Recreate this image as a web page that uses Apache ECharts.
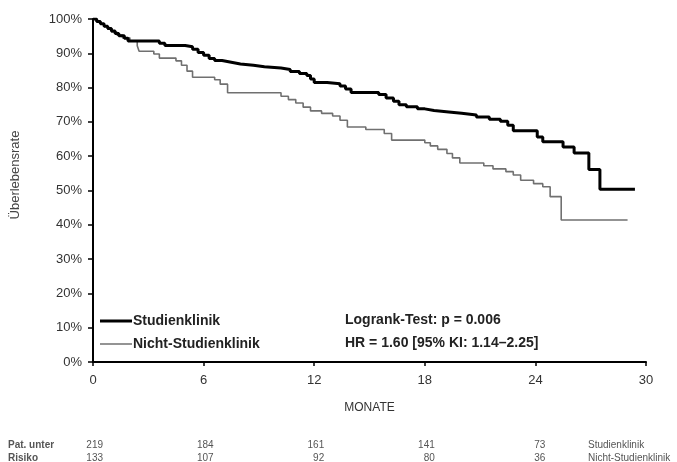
<!DOCTYPE html>
<html>
<head>
<meta charset="utf-8">
<script src="https://cdn.jsdelivr.net/npm/echarts@6/dist/echarts.min.js"></script>
<style>
  html, body { margin: 0; padding: 0; background: #fff; }
  #chart { width: 677px; height: 462px; }
</style>
</head>
<body>
<div id="chart"></div>
<script>
// Kaplan-Meier steps (months, survival %)
const studienT = [0, 0.2, 0.4, 0.6, 0.8, 1.0, 1.2, 1.4, 1.7, 1.9, 3.6, 3.9, 5.0, 5.4, 5.7, 6.0, 6.3, 6.6, 7.0, 7.5, 8.0, 8.7, 9.3, 10.2, 10.7, 11.2, 11.6, 11.8, 12.0, 12.7, 13.4, 13.7, 14.0, 15.5, 15.9, 16.3, 16.6, 17.0, 17.6, 18.0, 18.5, 19.3, 20.0, 20.8, 21.5, 22.1, 22.5, 22.8, 24.1, 24.4, 25.5, 26.1, 26.9, 27.5, 29.4];
const studienS = [100, 99.3, 98.6, 97.9, 97.2, 96.5, 95.8, 95.1, 94.4, 93.6, 92.9, 92.3, 91.9, 91.2, 90.2, 89.4, 88.5, 87.9, 87.4, 86.9, 86.5, 86.1, 85.7, 85.3, 84.7, 84.1, 83.5, 82.5, 81.5, 81.1, 80.5, 79.6, 78.6, 78.0, 77.0, 76.0, 75.0, 74.4, 73.8, 73.3, 72.9, 72.5, 72.0, 71.4, 70.8, 70.2, 69.0, 67.4, 65.6, 64.2, 62.7, 60.9, 56.1, 50.4, 50.4];
const nichtT = [0, 0.2, 0.4, 0.6, 0.8, 1.0, 1.3, 1.6, 2.0, 2.4, 2.5, 3.3, 3.6, 4.5, 4.8, 5.1, 5.4, 6.6, 6.9, 7.3, 10.2, 10.6, 11.0, 11.4, 11.8, 12.4, 13.0, 13.4, 13.8, 14.8, 15.8, 16.2, 18.0, 18.3, 18.7, 19.2, 19.5, 19.9, 21.2, 21.7, 22.4, 22.8, 23.2, 23.9, 24.4, 24.8, 25.4, 29.0];
const nichtS = [100, 99.3, 98.6, 97.8, 97.0, 96.2, 95.3, 94.5, 93.6, 92.2, 90.6, 89.8, 88.6, 87.8, 86.5, 84.8, 83.0, 82.3, 81.0, 78.5, 77.5, 76.5, 75.5, 74.3, 73.2, 72.5, 71.7, 70.5, 68.5, 67.8, 66.6, 64.7, 63.9, 63.0, 62.0, 60.8, 59.5, 58.0, 57.2, 56.3, 55.5, 54.5, 53.0, 52.0, 51.1, 48.2, 41.4, 41.4];

// patients at risk
const riskTimes = [0, 6, 12, 18, 24];
const riskStudien = [219, 184, 161, 141, 73];
const riskNicht = [133, 107, 92, 80, 36];

const FONT = "Liberation Sans, Arial, sans-serif";
const chart = echarts.init(document.getElementById("chart"), null, { renderer: "canvas" });
const pairs = (t, s) => t.map((x, i) => [x, s[i]]);

chart.setOption({
  animation: false,
  textStyle: { fontFamily: FONT },
  grid: { left: 93, right: 31, top: 19, bottom: 100 },
  legend: {
    orient: "vertical", left: 95, top: 309, itemGap: 9,
    itemWidth: 32, itemHeight: 14, symbolKeepAspect: true,
    data: [
      { name: "Studienklinik", icon: "path://M0,0H32V3H0Z" },
      { name: "Nicht-Studienklinik", icon: "path://M0,0H64V3H0Z" },
    ],
    textStyle: { fontFamily: FONT, fontSize: 14, fontWeight: "bold", color: "#222", padding: [0, 0, 0, -4] },
  },
  xAxis: {
    type: "value", min: 0, max: 30, interval: 6,
    name: "MONATE", nameLocation: "middle", nameGap: 40,
    nameTextStyle: { fontSize: 12, color: "#333" },
    axisLine: { lineStyle: { color: "#000", width: 2 } },
    axisTick: { length: 4, lineStyle: { color: "#000", width: 1.5 } },
    axisLabel: { fontSize: 13, color: "#333", margin: 12 },
    splitLine: { show: false },
  },
  yAxis: {
    type: "value", min: 0, max: 100, interval: 10,
    axisLine: { show: true, lineStyle: { color: "#000", width: 2 } },
    axisTick: { show: true, length: 5, lineStyle: { color: "#000", width: 1.5 } },
    axisLabel: { fontSize: 13, color: "#333", margin: 11, formatter: "{value}%" },
    splitLine: { show: false },
  },
  series: [
    {
      name: "Nicht-Studienklinik", type: "line", step: "end", symbol: "none",
      data: pairs(nichtT, nichtS),
      lineStyle: { color: "#707070", width: 1.6 }, itemStyle: { color: "#707070" },
    },
    {
      name: "Studienklinik", type: "line", step: "end", symbol: "none",
      data: pairs(studienT, studienS),
      lineStyle: { color: "#000", width: 3 }, itemStyle: { color: "#000" },
    },
  ],
});

// annotations and risk table, placed through the x scale
const px = t => chart.convertToPixel({ xAxisIndex: 0 }, t);
const small = { fontFamily: FONT, fontSize: 10, fill: "#555" };
const graphics = [
  { type: "text", x: 15, y: 175, rotation: Math.PI / 2,
    style: { text: "Überlebensrate", fontFamily: FONT, fontSize: 13, fill: "#444", textAlign: "center", textVerticalAlign: "middle" } },
  { type: "text", x: 345, y: 320, style: { text: "Logrank-Test: p = 0.006", fontFamily: FONT, fontSize: 14, fontWeight: "bold", fill: "#222", textVerticalAlign: "middle" } },
  { type: "text", x: 345, y: 343, style: { text: "HR = 1.60 [95% KI: 1.14–2.25]", fontFamily: FONT, fontSize: 14, fontWeight: "bold", fill: "#222", textVerticalAlign: "middle" } },
  { type: "text", x: 8, y: 445, style: Object.assign({}, small, { text: "Pat. unter", fontWeight: "bold", textVerticalAlign: "middle" }) },
  { type: "text", x: 8, y: 458, style: Object.assign({}, small, { text: "Risiko", fontWeight: "bold", textVerticalAlign: "middle" }) },
  { type: "text", x: 588, y: 445, style: Object.assign({}, small, { text: "Studienklinik", textVerticalAlign: "middle" }) },
  { type: "text", x: 588, y: 458, style: Object.assign({}, small, { text: "Nicht-Studienklinik", textVerticalAlign: "middle" }) },
];
riskTimes.forEach((t, i) => {
  graphics.push({ type: "text", x: px(t) + 10, y: 445, style: Object.assign({}, small, { text: String(riskStudien[i]), textAlign: "right", textVerticalAlign: "middle" }) });
  graphics.push({ type: "text", x: px(t) + 10, y: 458, style: Object.assign({}, small, { text: String(riskNicht[i]), textAlign: "right", textVerticalAlign: "middle" }) });
});
chart.setOption({ graphic: graphics });
</script>
</body>
</html>
